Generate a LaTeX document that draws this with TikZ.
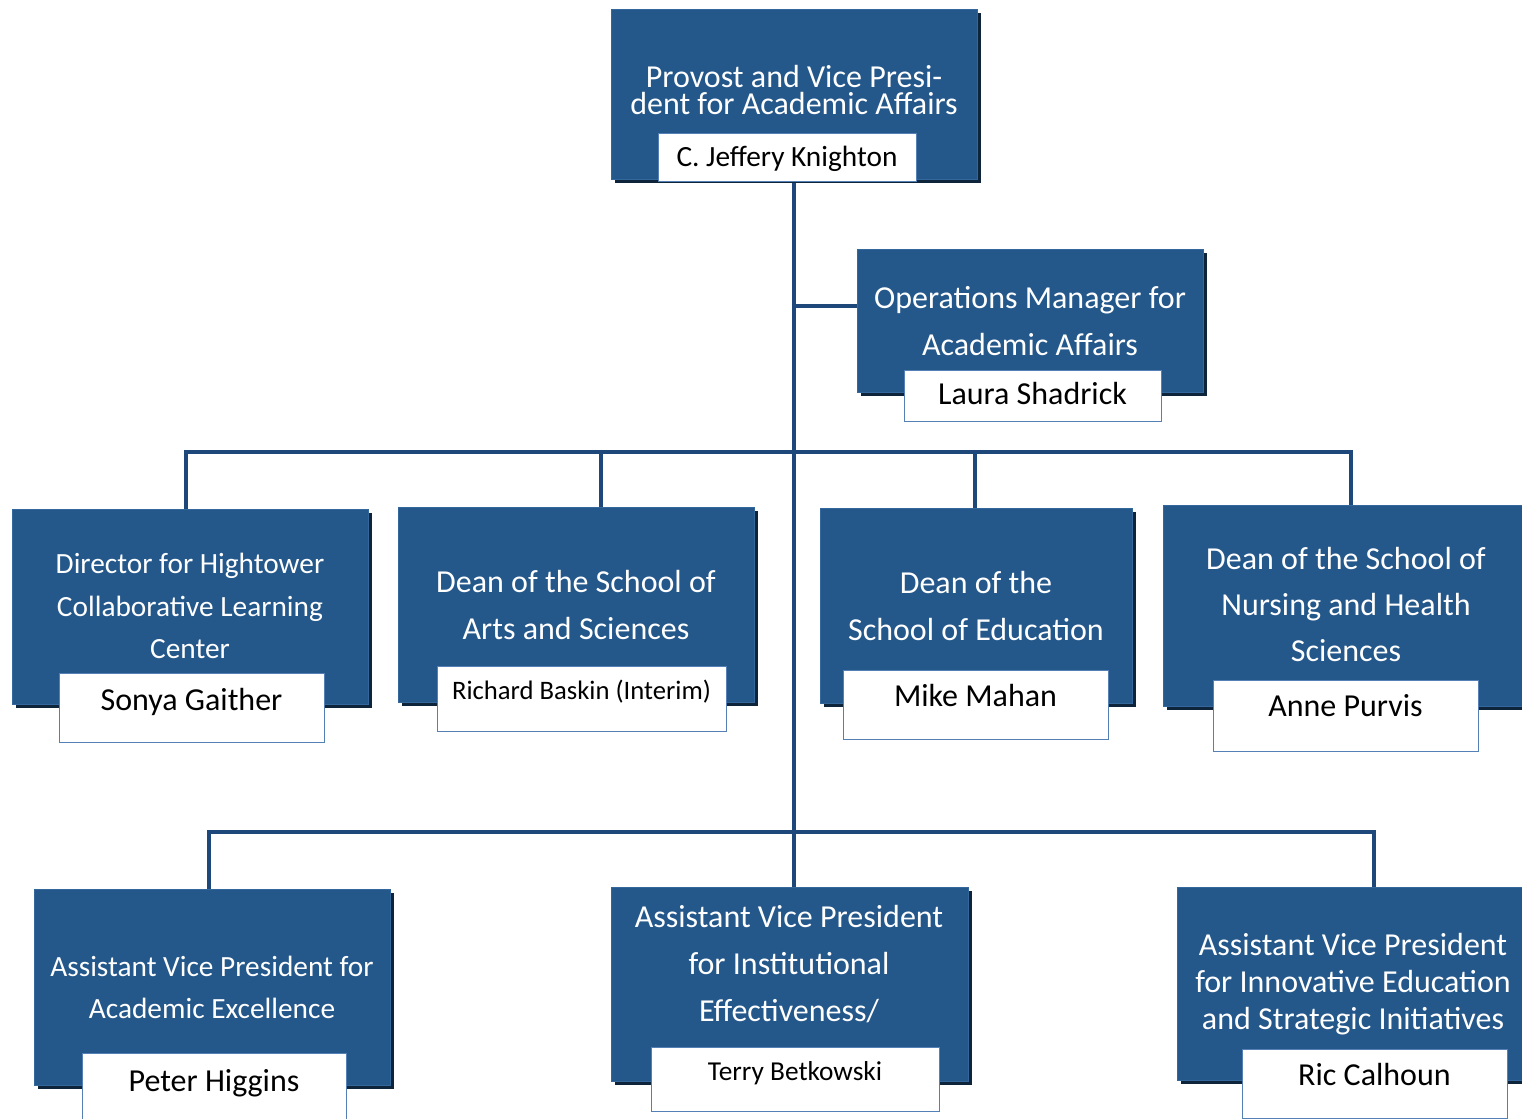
\documentclass[tikz,border=0pt]{standalone}
\usepackage{fontspec}
\setmainfont{Carlito}
\usetikzlibrary{fit,shadows,backgrounds}

\definecolor{unitblue}{RGB}{36,87,138}
\definecolor{unitedge}{RGB}{52,104,156}
\definecolor{shadowblue}{RGB}{14,36,58}
\definecolor{linkblue}{RGB}{30,72,122}
\definecolor{nameedge}{RGB}{84,128,182}

\tikzset{
  unit/.style={fill=unitblue, draw=unitedge, line width=0.6pt, inner sep=0pt,
    drop shadow={shadow xshift=3pt, shadow yshift=-3pt, fill=shadowblue, opacity=1}},
  namebox/.style 2 args={fill=white, draw=nameedge, line width=0.6pt, inner sep=0pt, text=black,
    minimum width=#1*0.75pt, minimum height=#2*0.75pt, text depth=13pt},
  title/.style={text=white, align=center, inner sep=0pt},
  link/.style={draw=linkblue, line width=3pt},
}

\begin{document}
\begin{tikzpicture}[x=0.75pt, y=0.75pt]
    \useasboundingbox (0,-1119) rectangle (1522,0);
    \clip (0,-1119) rectangle (1522,0);

    % provost
    \node[unit, fit={(611,-9) (977,-179)}] (prov) {};
    \node[title, font=\fontsize{24}{20.5}\selectfont] at (794,-90) {Provost and Vice Presi-\\dent for Academic Affairs};
    \node[namebox={258}{48}, text height=20pt, text depth=5pt, font=\fontsize{22}{24}\selectfont] (provN) at (787,-157) {C. Jeffery Knighton};

    % operations
    \node[unit, fit={(857,-249) (1203,-392)}] (ops) {};
    \node[title, font=\fontsize{24}{35}\selectfont] at (1030,-321) {Operations Manager for\\Academic Affairs};
    \node[namebox={257}{51}, text height=19.5pt, text depth=6pt, font=\fontsize{24}{26}\selectfont] (opsN) at (1032.5,-395.5) {Laura Shadrick};

    % deans and director
    \node[unit, fit={(12,-509) (368,-704)}] (dir) {};
    \node[title, font=\fontsize{22}{32}\selectfont] at (190,-606) {Director for Hightower\\Collaborative Learning\\Center};
    \node[namebox={265}{69}, text depth=12pt, font=\fontsize{24}{26}\selectfont] (dirN) at (191.5,-707.5) {Sonya Gaither};

    \node[unit, fit={(398,-507) (754,-702)}] (arts) {};
    \node[title, font=\fontsize{24}{35}\selectfont] at (576,-605) {Dean of the School of\\Arts and Sciences};
    \node[namebox={289}{65}, text depth=12.5pt, font=\fontsize{20}{22}\selectfont] (artsN) at (581.5,-698.5) {Richard Baskin (Interim)};

    \node[unit, fit={(820,-508) (1132,-703)}] (edu) {};
    \node[title, font=\fontsize{24}{35}\selectfont] at (976,-606) {Dean of the\\School of Education};
    \node[namebox={265}{69}, text depth=14pt, font=\fontsize{24}{26}\selectfont] (eduN) at (975.5,-704.5) {Mike Mahan};

    \node[unit, fit={(1163,-505) (1535,-706)}] (nurs) {};
    \node[title, font=\fontsize{24}{34.5}\selectfont] at (1346,-605) {Dean of the School of\\Nursing and Health\\Sciences};
    \node[namebox={265}{71}, text depth=15pt, font=\fontsize{24}{26}\selectfont] (nursN) at (1345.5,-715.5) {Anne Purvis};

    % assistant vice presidents
    \node[unit, fit={(34,-889) (390,-1085)}] (avpA) {};
    \node[title, font=\fontsize{22}{31.5}\selectfont] at (212,-987) {Assistant Vice President for\\Academic Excellence};
    \node[namebox={264}{69}, text depth=10pt, font=\fontsize{24}{26}\selectfont] (avpAN) at (214,-1087.5) {Peter Higgins};

    \node[unit, fit={(611,-887) (968,-1081)}] (avpB) {};
    \node[title, font=\fontsize{24}{35}\selectfont] at (789,-964) {Assistant Vice President\\for Institutional\\Effectiveness/};
    \node[namebox={288}{64}, text depth=12.5pt, font=\fontsize{20.5}{22}\selectfont] (avpBN) at (795,-1079) {Terry Betkowski};

    \node[unit, fit={(1177,-887) (1535,-1080)}] (avpC) {};
    \node[title, font=\fontsize{24}{28}\selectfont] at (1353,-984) {Assistant Vice President\\for Innovative Education\\and Strategic Initiatives};
    \node[namebox={265}{69}, text depth=14pt, font=\fontsize{24}{26}\selectfont] (avpCN) at (1374.5,-1083.5) {Ric Calhoun};

    % connectors
    \coordinate (opsj) at (794,-306);
    \coordinate (b1) at (186,-452);
    \coordinate (b2) at (601,-452);
    \coordinate (bm) at (794,-452);
    \coordinate (b3) at (975,-452);
    \coordinate (b4) at (1351,-452);
    \coordinate (c1) at (209,-832);
    \coordinate (c3) at (1374,-832);
    \begin{scope}[on background layer]
        \draw[link] (prov.south -| bm) -- (bm |- avpB.north);
        \draw[link] (opsj) -- (opsj -| ops.west);
        \draw[link] (b1 |- dir.north) -- (b1) -- (b4) -- (b4 |- nurs.north);
        \draw[link] (b2) -- (b2 |- arts.north);
        \draw[link] (b3) -- (b3 |- edu.north);
        \draw[link] (c1 |- avpA.north) -- (c1) -- (c3) -- (c3 |- avpC.north);
    \end{scope}
\end{tikzpicture}
\end{document}
